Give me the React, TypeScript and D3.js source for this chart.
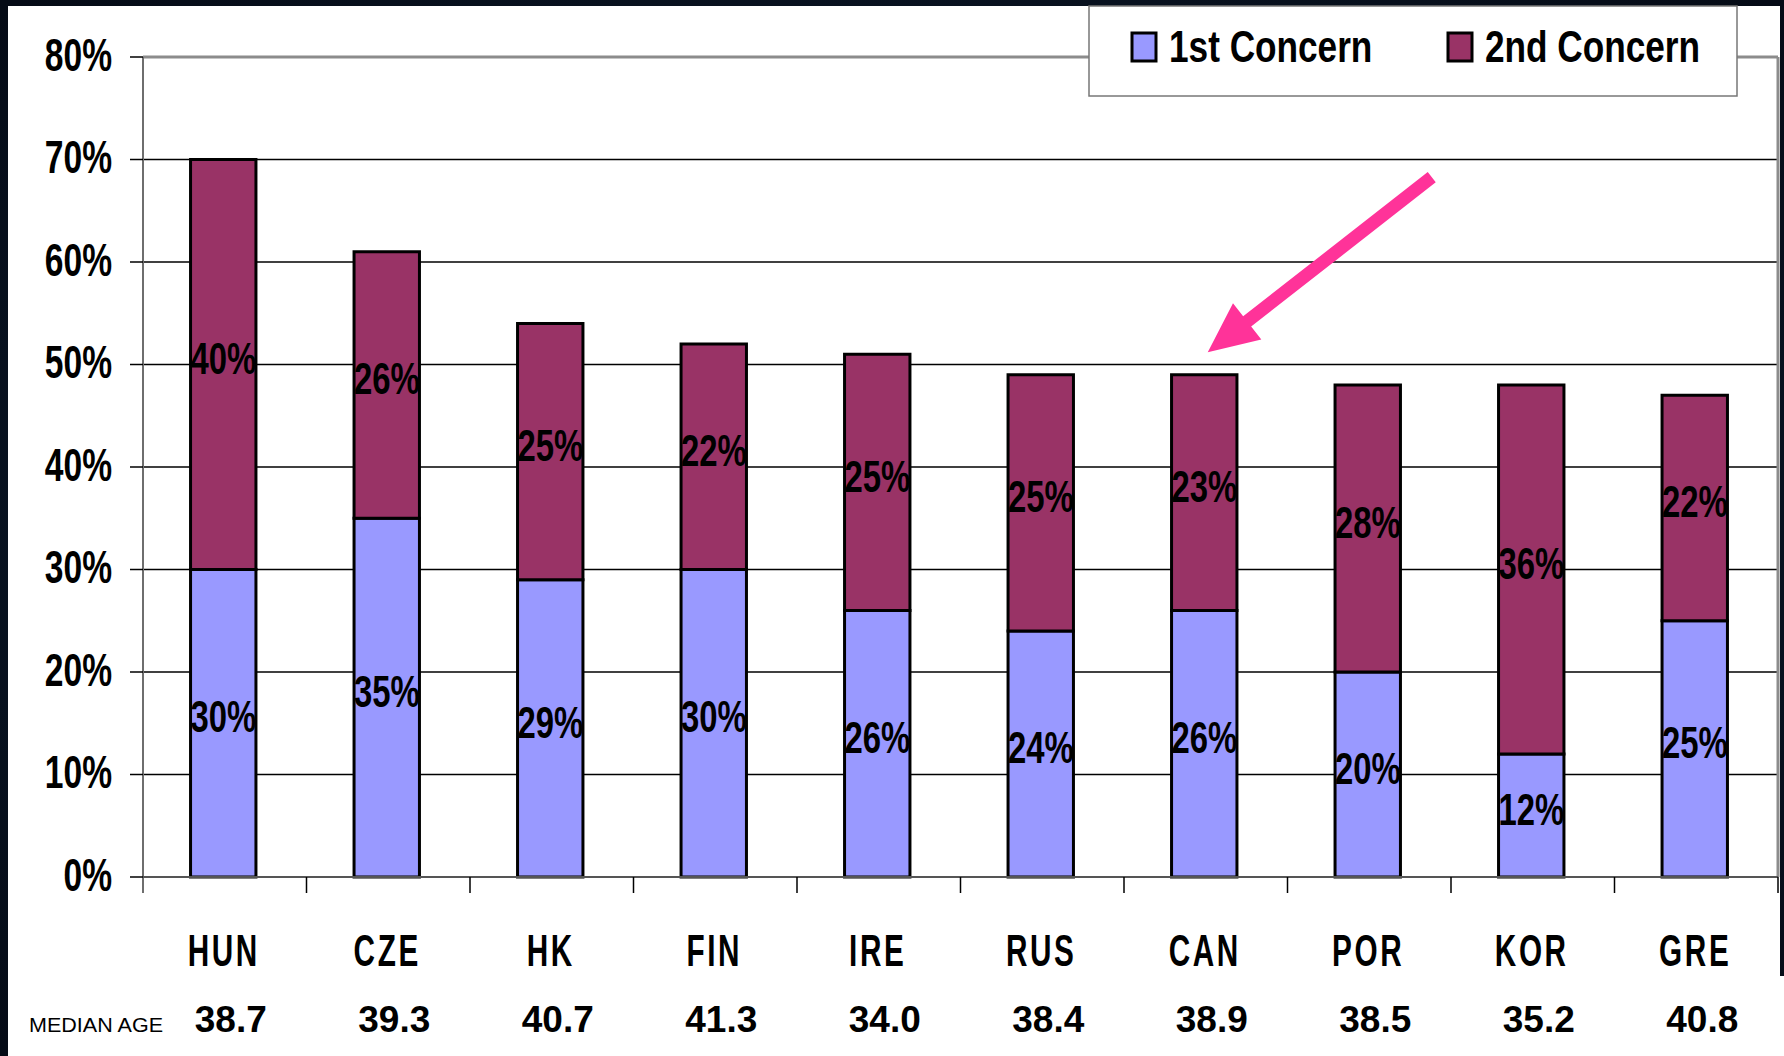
import React from "react";
import * as d3 from "d3";

const categories = ["HUN", "CZE", "HK", "FIN", "IRE", "RUS", "CAN", "POR", "KOR", "GRE"];
const firstConcern = [30, 35, 29, 30, 26, 24, 26, 20, 12, 25];
const secondConcern = [40, 26, 25, 22, 25, 25, 23, 28, 36, 22];
const medianAge = ["38.7", "39.3", "40.7", "41.3", "34.0", "38.4", "38.9", "38.5", "35.2", "40.8"];
const yTicks = [0, 10, 20, 30, 40, 50, 60, 70, 80];
const seriesNames = ["1st Concern", "2nd Concern"];
const seriesColors = ["#9999FF", "#993366"];
const highlighted = "CAN";

const W = 1784;
const H = 1056;
const plot = { left: 143, right: 1778, top: 57, bottom: 877 };
const FONT = "'Liberation Sans', Arial, sans-serif";

function SText(props: {
  x: number;
  y: number;
  sx: number;
  size: number;
  anchor?: "start" | "middle" | "end";
  dy?: string;
  spacing?: number;
  children: React.ReactNode;
}) {
  return (
    <text
      transform={`translate(${props.x},${props.y}) scale(${props.sx},1)`}
      x={0}
      y={0}
      dy={props.dy}
      textAnchor={props.anchor || "start"}
      fontFamily={FONT}
      fontWeight="bold"
      fontSize={props.size}
      letterSpacing={props.spacing}
      fill="#000"
    >
      {props.children}
    </text>
  );
}

export default function App() {
  const x = d3.scaleBand<string>().domain(categories).range([plot.left, plot.right]).padding(0);
  const y = d3.scaleLinear().domain([0, 80]).range([plot.bottom, plot.top]);
  const bw = x.bandwidth();
  const barW = bw * 0.4;

  const rows = categories.map((c, i) => ({ c, a: firstConcern[i], b: secondConcern[i], age: medianAge[i] }));
  const stack = d3.stack<any>().keys(["a", "b"])(rows as any);

  // arrow annotation anchored to highlighted bar
  const tipX = (x(highlighted) as number) + bw / 2 + 2;
  const tipY = y(51.2);
  const tailX = tipX + 224;
  const tailY = tipY - 175;
  const dx = tipX - tailX, dy = tipY - tailY;
  const len = Math.hypot(dx, dy);
  const ux = dx / len, uy = dy / len;
  const nx = -uy, ny = ux;
  const headLen = 50, headHalf = 23, shaftHalf = 6.5;
  const bx = tipX - ux * headLen, by = tipY - uy * headLen;
  const arrowPts = [
    [tailX + nx * shaftHalf, tailY + ny * shaftHalf],
    [bx + nx * shaftHalf, by + ny * shaftHalf],
    [bx + nx * headHalf, by + ny * headHalf],
    [tipX, tipY],
    [bx - nx * headHalf, by - ny * headHalf],
    [bx - nx * shaftHalf, by - ny * shaftHalf],
    [tailX - nx * shaftHalf, tailY - ny * shaftHalf],
  ];

  return (
    <svg width={W} height={H} style={{ position: "absolute", left: 0, top: 0, display: "block" }}>
      <defs>
        <radialGradient id="bg" cx="50%" cy="50%" r="70%">
          <stop offset="0%" stopColor="#102236" />
          <stop offset="100%" stopColor="#050b16" />
        </radialGradient>
      </defs>
      <rect x={0} y={0} width={W} height={H} fill="url(#bg)" />
      <rect x={8} y={6} width={1772} height={H - 6} fill="#ffffff" />
      <rect x={8} y={976} width={W - 8} height={H - 976} fill="#ffffff" />

      {/* gridlines */}
      {yTicks.filter((t) => t > 0 && t < 80).map((t) => (
        <line key={t} x1={plot.left} x2={plot.right} y1={y(t)} y2={y(t)} stroke="#000" strokeWidth={1.5} />
      ))}
      {/* plot border */}
      <line x1={plot.left} x2={plot.right} y1={plot.top} y2={plot.top} stroke="#8c8c8c" strokeWidth={3} />
      <line x1={plot.right} x2={plot.right} y1={plot.top} y2={plot.bottom} stroke="#8c8c8c" strokeWidth={3} />
      <line x1={plot.left} x2={plot.left} y1={plot.top} y2={plot.bottom + 16} stroke="#6e6e6e" strokeWidth={2} />

      {/* y ticks & labels */}
      {yTicks.map((t) => (
        <g key={t}>
          <line x1={plot.left - 13} x2={plot.left} y1={y(t)} y2={y(t)} stroke="#000" strokeWidth={1.5} />
          <SText x={112} y={y(t) - 3} dy="0.36em" anchor="end" size={46} sx={0.73}>
            {t}%
          </SText>
        </g>
      ))}

      {/* bars */}
      {stack.map((s, si) =>
        s.map((d: any, i: number) => {
          const cx = (x(categories[i]) as number) + bw / 2 - 1.5;
          return (
            <rect
              key={si + "-" + i}
              x={cx - barW / 2}
              y={y(d[1])}
              width={barW}
              height={y(d[0]) - y(d[1])}
              fill={seriesColors[si]}
              stroke="#000"
              strokeWidth={3}
            />
          );
        })
      )}

      {/* x axis */}
      <line x1={plot.left} x2={plot.right} y1={plot.bottom} y2={plot.bottom} stroke="#555" strokeWidth={2} />
      {categories.map((c) => (
        <line key={c} x1={(x(c) as number) + bw} x2={(x(c) as number) + bw} y1={plot.bottom} y2={plot.bottom + 16} stroke="#000" strokeWidth={1.5} />
      ))}

      {/* bar value labels */}
      {stack.map((s, si) =>
        s.map((d: any, i: number) => {
          const cx = (x(categories[i]) as number) + bw / 2 - 1.5;
          const val = si === 0 ? firstConcern[i] : secondConcern[i];
          return (
            <SText key={"l" + si + "-" + i} x={cx} y={y((d[0] + d[1]) / 2) - 7} dy="0.36em" anchor="middle" size={45} sx={0.73}>
              {val}%
            </SText>
          );
        })
      )}

      {/* category labels */}
      {categories.map((c) => (
        <SText key={"c" + c} x={(x(c) as number) + bw / 2 - 1} y={966} anchor="middle" size={45} sx={0.66} spacing={4}>
          {c}
        </SText>
      ))}

      {/* median age */}
      <text x={29} y={1032} fontFamily={FONT} fontSize={20} textLength={134} lengthAdjust="spacingAndGlyphs" fill="#000">
        MEDIAN AGE
      </text>
      {rows.map((r) => (
        <text
          key={"m" + r.c}
          x={(x(r.c) as number) + bw / 2 + 6}
          y={1032}
          textAnchor="middle"
          fontFamily={FONT}
          fontWeight="bold"
          fontSize={37}
          fill="#000"
        >
          {r.age}
        </text>
      ))}

      {/* arrow */}
      <polygon points={arrowPts.map((p) => p.join(",")).join(" ")} fill="#FF3399" />

      {/* legend */}
      <rect x={1089} y={6} width={648} height={90} fill="#fff" stroke="#777" strokeWidth={1.5} />
      {seriesNames.map((n, i) => {
        const lx = i === 0 ? 1132 : 1448;
        return (
          <g key={n}>
            <rect x={lx} y={33} width={24} height={28} fill={seriesColors[i]} stroke="#000" strokeWidth={3} />
            <SText x={lx + 37} y={62} size={44} sx={0.8}>
              {n}
            </SText>
          </g>
        );
      })}
    </svg>
  );
}
